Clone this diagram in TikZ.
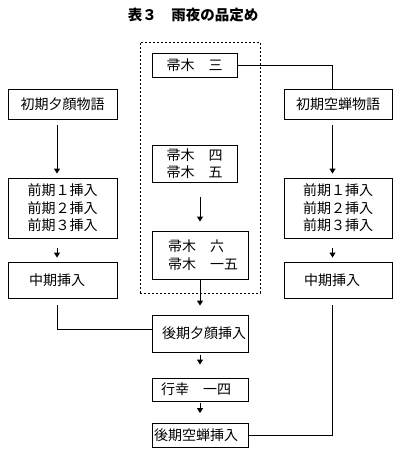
\documentclass[tikz,border=0pt]{standalone}
\usepackage{fontspec}
\newfontfamily\cjk{Noto Sans CJK JP}
\usetikzlibrary{arrows.meta,calc}
\begin{document}
\begin{tikzpicture}[x=1pt,y=-1pt,
  bx/.style={draw,line width=0.9pt,inner sep=0pt,align=center,font=\cjk\fontsize{14}{17.5}\selectfont},
  ln/.style={line width=0.9pt},
  ar/.style={line width=0.9pt,-{Triangle[width=6pt,length=5pt]}},
  grpbox/.style={draw,line width=0.9pt,dash pattern=on 2pt off 2pt,inner sep=0pt}]
\useasboundingbox (0,0) rectangle (405,457);
\node[font=\cjk\bfseries\fontsize{14.5}{17}\selectfont] (title) at (193,15) {表３　雨夜の品定め};
% dotted group
\node[grpbox,minimum width=120pt,minimum height=251pt] (grp) at (200,167.5) {};
% boxes
\node[bx,minimum width=85pt,minimum height=24pt] (t3) at (194.5,65) {帚木　三};
\node[bx,minimum width=109pt,minimum height=30pt] (yl) at (62.5,104) {初期夕顔物語};
\node[bx,minimum width=108pt,minimum height=30pt] (ul) at (338,104) {初期空蝉物語};
\node[bx,minimum width=85pt,minimum height=37pt] (t45) at (194.5,163.5) {帚木　四\\帚木　五};
\node[bx,minimum height=48pt,align=left,text width=70pt,inner xsep=13pt,xshift=0pt] (t6) at (200,255) {\hspace*{3pt}帚木　六\\\hspace*{3pt}帚木　一五};
\node[bx,minimum width=109pt,minimum height=60pt] (zl) at (62.5,208) {前期１挿入\\前期２挿入\\前期３挿入};
\node[bx,minimum width=108pt,minimum height=60pt] (zr) at (338,208) {前期１挿入\\前期２挿入\\前期３挿入};
\node[bx,minimum height=36pt,align=left,text width=67pt,inner xsep=21pt] (ml) at (62.5,280) {中期挿入};
\node[bx,minimum height=36pt,align=left,text width=68pt,inner xsep=20pt] (mr) at (338,280) {中期挿入};
\node[bx,minimum height=37pt,align=left,text width=76pt,inner xsep=10pt] (ky) at (200,333.5) {後期夕顔挿入};
\node[bx,minimum height=23pt,align=left,text width=78pt,inner xsep=9pt] (gy) at (200,389.5) {行幸　一四};
\node[bx,minimum height=24pt,align=left,text width=92pt,inner xsep=2pt] (ku) at (200,435.5) {後期空蝉挿入};
% connectors
\draw[ln] (t3.east) -| ($(ul.north)+(-5.5,0)$);
\draw[ar] ($(yl.south)+(-5.5,6)$) -- ($(zl.north)+(-5.5,-4)$);
\draw[ar] ($(ul.south)+(-5.5,6)$) -- ($(zr.north)+(-5.5,-4)$);
\draw[ar] ($(zl.south)+(-5.5,10)$) -- ($(ml.north)+(-5.5,-4)$);
\draw[ar] ($(zr.south)+(-5.5,10)$) -- ($(mr.north)+(-5.5,-4)$);
\draw[ln] ($(ml.south)+(-5.5,7)$) |- ($(ky.west)+(0,-4.5)$);
\draw[ln] ($(mr.south)+(-5.5,7)$) |- (ku.east);
\draw[ar] ($(t45.south)+(5.5,15)$) -- ($(t6.north)+(0,-9)$);
\draw[ar] (t6.south) -- ($(ky.north)+(0,-9)$);
\draw[ar] ($(ky.south)+(0,3)$) -- ($(gy.north)+(0,-13)$);
\draw[ar] ($(gy.south)+(0,2)$) -- ($(ku.north)+(0,-10)$);
\end{tikzpicture}
\end{document}
